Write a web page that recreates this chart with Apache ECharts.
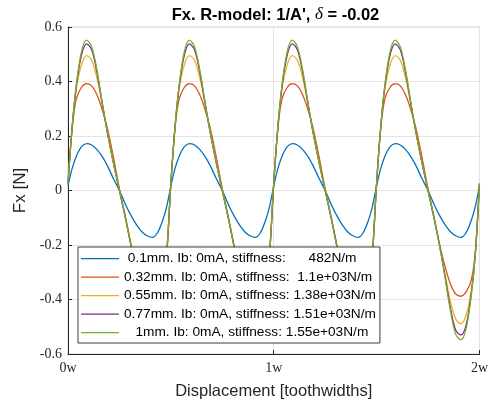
<!DOCTYPE html>
<html>
<head>
<meta charset="utf-8">
<script src="https://cdn.jsdelivr.net/npm/echarts@6/dist/echarts.min.js"></script>
<style>html,body{margin:0;padding:0;background:#fff;}#c{width:491px;height:405px;}</style>
</head>
<body>
<div id="c"></div>
<script>
// Displacement samples (toothwidths)
const xs = [
0,0.02,0.04,0.065,0.09,0.115,0.14,0.165,0.19,0.22,0.25,0.28,0.31,0.335,0.36,0.385,0.41,0.435,0.46,0.48,
0.5,0.52,0.54,0.565,0.59,0.615,0.64,0.665,0.69,0.72,0.75,0.78,0.81,0.835,0.86,0.885,0.91,0.935,0.96,0.98,
1,1.02,1.04,1.065,1.09,1.115,1.14,1.165,1.19,1.22,1.25,1.28,1.31,1.335,1.36,1.385,1.41,1.435,1.46,1.48,
1.5,1.52,1.54,1.565,1.59,1.615,1.64,1.665,1.69,1.72,1.75,1.78,1.81,1.835,1.86,1.885,1.91,1.935,1.96,1.98,
2];
const fx01 = [
0.016,0.080,0.125,0.160,0.172,0.167,0.151,0.126,0.093,0.045,0.000,-0.052,-0.097,-0.128,-0.152,-0.166,-0.172,-0.155,-0.110,-0.058,
0.016,0.080,0.125,0.160,0.172,0.167,0.151,0.126,0.093,0.045,0.000,-0.052,-0.097,-0.128,-0.152,-0.166,-0.172,-0.155,-0.110,-0.058,
0.016,0.080,0.125,0.160,0.172,0.167,0.151,0.126,0.093,0.045,0.000,-0.052,-0.097,-0.128,-0.152,-0.166,-0.172,-0.155,-0.110,-0.058,
0.016,0.080,0.125,0.160,0.172,0.167,0.151,0.126,0.093,0.045,0.000,-0.052,-0.097,-0.128,-0.152,-0.166,-0.172,-0.155,-0.110,-0.058,
0.016];
const fx032 = [
0.025,0.225,0.335,0.378,0.392,0.384,0.352,0.300,0.233,0.125,0.006,-0.100,-0.210,-0.285,-0.345,-0.380,-0.388,-0.372,-0.330,-0.225,
0.025,0.225,0.335,0.378,0.392,0.384,0.352,0.300,0.233,0.125,0.006,-0.100,-0.210,-0.285,-0.345,-0.380,-0.388,-0.372,-0.330,-0.225,
0.025,0.225,0.335,0.378,0.392,0.384,0.352,0.300,0.233,0.125,0.006,-0.100,-0.210,-0.285,-0.345,-0.380,-0.388,-0.372,-0.330,-0.225,
0.025,0.225,0.335,0.378,0.392,0.384,0.352,0.300,0.233,0.125,0.006,-0.100,-0.210,-0.285,-0.345,-0.380,-0.388,-0.372,-0.330,-0.225,
0.025];
const fx055 = [
0.025,0.230,0.370,0.460,0.495,0.478,0.415,0.322,0.222,0.108,0.002,-0.103,-0.215,-0.315,-0.410,-0.472,-0.489,-0.458,-0.368,-0.230,
0.025,0.230,0.370,0.460,0.495,0.478,0.415,0.322,0.222,0.108,0.002,-0.103,-0.215,-0.315,-0.410,-0.472,-0.489,-0.458,-0.368,-0.230,
0.025,0.230,0.370,0.460,0.495,0.478,0.415,0.322,0.222,0.108,0.002,-0.103,-0.215,-0.315,-0.410,-0.472,-0.489,-0.458,-0.368,-0.230,
0.025,0.230,0.370,0.460,0.495,0.478,0.415,0.322,0.222,0.108,0.002,-0.103,-0.215,-0.315,-0.410,-0.472,-0.489,-0.458,-0.368,-0.230,
0.025];
const fx077 = [
0.025,0.232,0.380,0.495,0.538,0.516,0.436,0.326,0.218,0.104,0.000,-0.104,-0.217,-0.325,-0.435,-0.513,-0.530,-0.494,-0.380,-0.232,
0.025,0.232,0.380,0.495,0.538,0.516,0.436,0.326,0.218,0.104,0.000,-0.104,-0.217,-0.325,-0.435,-0.513,-0.530,-0.494,-0.380,-0.232,
0.025,0.232,0.380,0.495,0.538,0.516,0.436,0.326,0.218,0.104,0.000,-0.104,-0.217,-0.325,-0.435,-0.513,-0.530,-0.494,-0.380,-0.232,
0.025,0.232,0.380,0.495,0.538,0.516,0.436,0.326,0.218,0.104,0.000,-0.104,-0.217,-0.325,-0.435,-0.513,-0.530,-0.494,-0.380,-0.232,
0.025];
const fx1 = [
0.025,0.232,0.386,0.508,0.552,0.528,0.445,0.330,0.219,0.104,0.000,-0.104,-0.219,-0.330,-0.445,-0.528,-0.548,-0.508,-0.386,-0.232,
0.025,0.232,0.386,0.508,0.552,0.528,0.445,0.330,0.219,0.104,0.000,-0.104,-0.219,-0.330,-0.445,-0.528,-0.548,-0.508,-0.386,-0.232,
0.025,0.232,0.386,0.508,0.552,0.528,0.445,0.330,0.219,0.104,0.000,-0.104,-0.219,-0.330,-0.445,-0.528,-0.548,-0.508,-0.386,-0.232,
0.025,0.232,0.386,0.508,0.552,0.528,0.445,0.330,0.219,0.104,0.000,-0.104,-0.219,-0.330,-0.445,-0.528,-0.548,-0.508,-0.386,-0.232,
0.025];
const seriesNames = [
  ' 0.1mm. Ib: 0mA, stiffness:      482N/m',
  '0.32mm. Ib: 0mA, stiffness:  1.1e+03N/m',
  '0.55mm. Ib: 0mA, stiffness: 1.38e+03N/m',
  '0.77mm. Ib: 0mA, stiffness: 1.51e+03N/m',
  '   1mm. Ib: 0mA, stiffness: 1.55e+03N/m'
];
const seriesValues = [fx01, fx032, fx055, fx077, fx1];
const colors = ['#0072BD', '#D95319', '#EDB120', '#7E2F8E', '#77AC30'];
const xTicks = [0, 1, 2];
const yTicks = [-0.6, -0.4, -0.2, 0, 0.2, 0.4, 0.6];

const chart = echarts.init(document.getElementById('c'), null, {renderer: 'canvas'});
const axisColor = '#262626';
const gridColor = '#e3e3e3';
const option = {
  animation: false,
  backgroundColor: '#ffffff',
  color: colors,
  graphic: [{
    type: 'text', x: 275.5, y: 15,
    style: {
      text: "Fx. R-model: 1/A', {i|δ} = -0.02",
      align: 'center', verticalAlign: 'middle',
      fontFamily: 'Liberation Sans', fontWeight: 'bold', fontSize: 16.5, fill: '#000',
      rich: { i: { fontFamily: 'Liberation Serif', fontStyle: 'italic', fontWeight: 'normal', fontSize: 17, fill: '#000' } }
    }
  }],
  grid: { left: 68, right: 8, top: 27, bottom: 51, show: true, borderColor: '#d6d6d6', borderWidth: 1, backgroundColor: '#fff' },
  xAxis: {
    type: 'value', min: xTicks[0], max: xTicks[xTicks.length - 1], interval: 1,
    name: 'Displacement [toothwidths]', nameLocation: 'middle', nameGap: 29,
    nameTextStyle: { fontFamily: 'Liberation Sans', fontSize: 16.5, color: axisColor },
    axisLine: { show: true, onZero: false, lineStyle: { color: axisColor, width: 1 } },
    axisTick: { show: true, inside: true, length: 4, lineStyle: { color: axisColor } },
    axisLabel: { show: true, margin: 7, showMinLabel: true, showMaxLabel: true,
      fontFamily: 'Liberation Serif', fontSize: 14, color: axisColor,
      formatter: v => v + 'w' },
    splitLine: { show: true, lineStyle: { color: gridColor, width: 1 } }
  },
  yAxis: {
    type: 'value', min: yTicks[0], max: yTicks[yTicks.length - 1], interval: 0.2,
    name: 'Fx [N]', nameLocation: 'middle', nameGap: 31,
    nameTextStyle: { fontFamily: 'Liberation Sans', fontSize: 17, color: axisColor },
    axisLine: { show: true, onZero: false, lineStyle: { color: axisColor, width: 1 } },
    axisTick: { show: true, inside: true, length: 4, lineStyle: { color: axisColor } },
    axisLabel: { show: true, margin: 6, showMinLabel: true, showMaxLabel: true,
      fontFamily: 'Liberation Serif', fontSize: 14, color: axisColor,
      formatter: v => String(Math.round(v * 10) / 10) },
    splitLine: { show: true, lineStyle: { color: gridColor, width: 1 } }
  },
  legend: {
    orient: 'vertical', left: 78, top: 247,
    padding: [3.7, 4, 2.3, 3],
    itemGap: 2.5, itemWidth: 38, itemHeight: 1.2, icon: 'rect',
    backgroundColor: '#fff', borderColor: '#3a3a3a', borderWidth: 1, borderRadius: 0,
    selectedMode: false,
    textStyle: { fontFamily: 'Liberation Sans', fontSize: 13.7, lineHeight: 16, color: '#000' },
    data: seriesNames
  },
  series: seriesNames.map((name, k) => ({
    name: name, type: 'line', showSymbol: false, symbol: 'none', smooth: 0.35,
    lineStyle: { width: 1.3, color: colors[k] },
    itemStyle: { color: colors[k] },
    data: xs.map((x, i) => [x, seriesValues[k][i]])
  }))
};
chart.setOption(option);
</script>
</body>
</html>
